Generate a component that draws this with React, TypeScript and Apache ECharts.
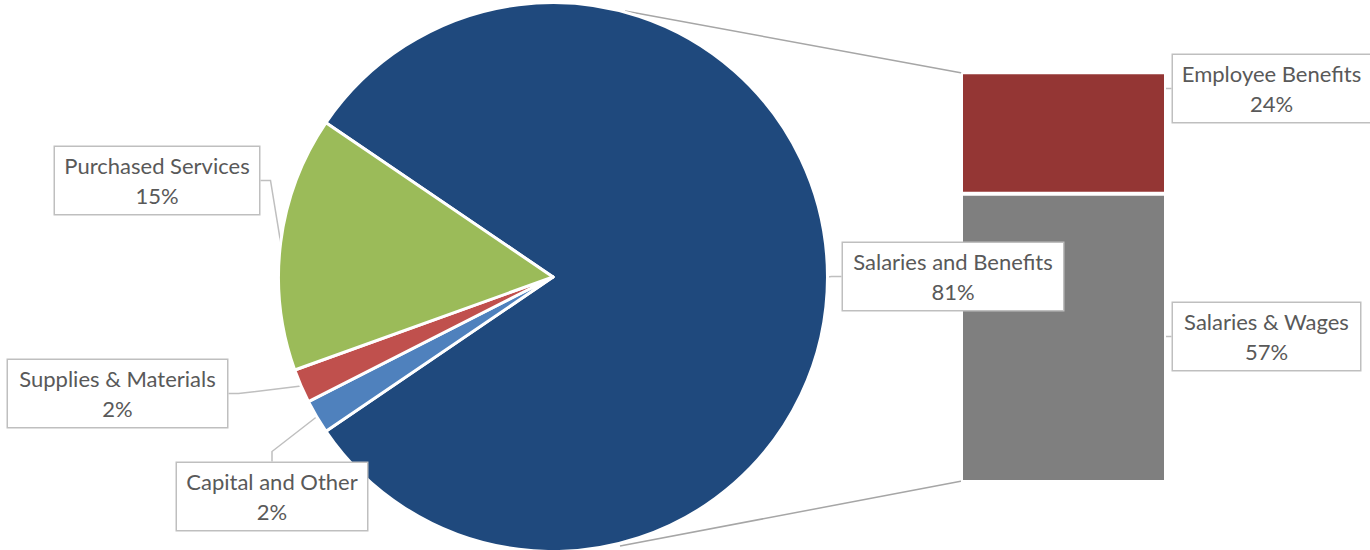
import React, { useEffect, useRef } from "react";
import * as echarts from "echarts";

// ---- data ----
const pieNames = ["Salaries and Benefits", "Capital and Other", "Supplies & Materials", "Purchased Services"];
const pieValues = [81, 2, 2, 15];
const pieColors = ["#1F497D", "#4F81BD", "#C0504D", "#9BBB59"];

const barNames = ["Salaries & Wages", "Employee Benefits"];
const barValues = [57, 24];
const barColors = ["#7F7F7F", "#943634"];

// ---- label box layout (top-left corner and width) ----
const pieLabelBoxes = [
  { x: 843, y: 243, w: 220 },
  { x: 177, y: 463, w: 190 },
  { x: 8, y: 360, w: 219 },
  { x: 55, y: 147, w: 204 },
];
const barLabelBoxes = [
  { x: 1173, y: 303, w: 187 },
  { x: 1173, y: 55, w: 197 },
];

const FONT = "Lato";
const TEXT_COLOR = "#595959";
const BOX_BORDER = "#BFBFBF";

const labelBase = {
  show: true,
  color: TEXT_COLOR,
  fontFamily: FONT,
  fontSize: 22,
  lineHeight: 30,
  align: "center",
  backgroundColor: "#ffffff",
  borderColor: BOX_BORDER,
  borderWidth: 1.5,
  padding: [3.5, 0],
};

export default function App() {
  const ref = useRef<HTMLDivElement>(null);
  useEffect(() => {
    if (!ref.current) return;
    const chart = echarts.init(ref.current, null, { renderer: "svg" });
    const yMax = pieValues[0];
    const option: any = {
      animation: false,
      backgroundColor: "#ffffff",
      grid: { left: 961, top: 72.3, width: 205, height: 409.7, containLabel: false },
      xAxis: { type: "category", data: ["bar"], show: false },
      yAxis: { type: "value", min: 0, max: yMax, show: false },
      graphic: [
        { type: "line", silent: true, shape: { x1: 625, y1: 11, x2: 962, y2: 73 }, style: { stroke: "#A6A6A6", lineWidth: 1.5 } },
        { type: "line", silent: true, shape: { x1: 620, y1: 546, x2: 962, y2: 481 }, style: { stroke: "#A6A6A6", lineWidth: 1.5 } },
      ],
      series: [
        ...barNames.map((name, i) => ({
          type: "bar",
          name,
          stack: "total",
          barWidth: "100%",
          silent: true,
          data: [barValues[i]],
          itemStyle: { color: barColors[i], borderColor: "#ffffff", borderWidth: 2 },
          label: {
            ...labelBase,
            width: barLabelBoxes[i].w,
            formatter: (p: any) => `${p.seriesName}\n${p.value}%`,
          },
          labelLine: { show: true, lineStyle: { color: BOX_BORDER, width: 1.5 } },
          labelLayout: () => ({
            x: barLabelBoxes[i].x + barLabelBoxes[i].w / 2,
            y: barLabelBoxes[i].y,
            align: "center",
            verticalAlign: "top",
          }),
        })),
        {
          type: "pie",
          center: [553, 277],
          radius: 274.5,
          startAngle: 145.8,
          clockwise: true,
          silent: true,
          avoidLabelOverlap: false,
          data: pieNames.map((name, i) => ({
            name,
            value: pieValues[i],
            itemStyle: { color: pieColors[i] },
            label: { width: pieLabelBoxes[i].w },
          })),
          itemStyle: { borderColor: "#ffffff", borderWidth: 3 },
          label: {
            ...labelBase,
            position: "outside",
            formatter: (p: any) => `${p.name}\n${p.value}%`,
          },
          labelLine: { show: true, length: 10, length2: 10, lineStyle: { color: BOX_BORDER, width: 1.5 } },
          labelLayout: (p: any) => ({
            x: pieLabelBoxes[p.dataIndex].x + pieLabelBoxes[p.dataIndex].w / 2,
            y: pieLabelBoxes[p.dataIndex].y,
            align: "center",
            verticalAlign: "top",
          }),
        },
      ],
    };
    chart.setOption(option);
    return () => chart.dispose();
  }, []);
  return (
    <div
      ref={ref}
      style={{ position: "fixed", left: 0, top: 0, width: 1370, height: 550 }}
    />
  );
}
